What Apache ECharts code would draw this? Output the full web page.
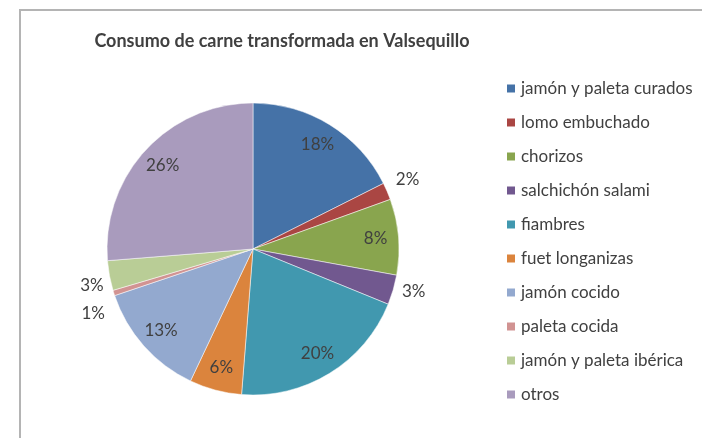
<!DOCTYPE html>
<html lang="es">
<head>
<meta charset="UTF-8">
<title>Consumo de carne transformada en Valsequillo</title>
<script src="https://cdn.jsdelivr.net/npm/echarts@6/dist/echarts.min.js"></script>
<style>
  html, body { margin: 0; padding: 0; background: #fff; }
  #main { width: 702px; height: 438px; }
</style>
</head>
<body>
<div id="main"></div>
<script type="text/javascript">
  // categorias y valores (%)
  var categorias = ['jamón y paleta curados', 'lomo embuchado', 'chorizos', 'salchichón salami',
    'fiambres', 'fuet longanizas', 'jamón cocido', 'paleta cocida', 'jamón y paleta ibérica', 'otros'];
  var valores = [17.6, 1.9, 8.4, 3.3, 20.1, 5.8, 12.8, 0.6, 3.3, 26.3];
  var colores = ['#4572A7', '#AA4643', '#89A54E', '#71588F', '#4198AF',
    '#DB843D', '#93A9CF', '#D19392', '#B9CD96', '#A99BBD'];
  // etiquetas que van fuera del sector
  var fuera = ['lomo embuchado', 'salchichón salami', 'paleta cocida', 'jamón y paleta ibérica'];

  var myChart = echarts.init(document.getElementById('main'));
  var fuente = 'Lato, "Open Sans", sans-serif';

  var datos = categorias.map(function (c, i) {
    return { name: c, value: valores[i], itemStyle: { color: colores[i] } };
  });
  var datosEtiq = categorias.map(function (c, i) {
    var d = { name: c, value: valores[i] };
    if (fuera.indexOf(c) >= 0) {
      d.label = { position: 'outside' };
    }
    return d;
  });

  // pequeños ajustes de las etiquetas exteriores (como las coloca Excel)
  var ajusteY = { 'lomo embuchado': -10, 'jamón y paleta ibérica': 9, 'paleta cocida': 18 };

  myChart.setOption({
    backgroundColor: '#fff',
    animation: false,
    title: {
      text: 'Consumo de carne transformada en Valsequillo',
      left: 277, top: 27, textAlign: 'center',
      textStyle: { fontFamily: fuente, fontSize: 18, fontWeight: 'bold', color: '#404040' }
    },
    legend: {
      orient: 'vertical',
      left: 500, top: 75,
      itemWidth: 10, itemHeight: 10, itemGap: 17,
      icon: 'rect',
      data: categorias,
      selectedMode: false,
      textStyle: { fontFamily: fuente, fontSize: 17, color: '#404040', lineHeight: 15 }
    },
    graphic: [{
      type: 'rect', silent: true,
      shape: { x: 20, y: 10, width: 800, height: 600 },
      style: { fill: 'none', stroke: '#b4b4b4', lineWidth: 2 }
    }],
    series: [{
      name: 'consumo',
      type: 'pie',
      center: [253, 249],
      radius: [0, 146],
      startAngle: 90,
      clockwise: true,
      silent: true,
      label: { show: false },
      labelLine: { show: false },
      itemStyle: { borderColor: '#fff', borderWidth: 0.5 },
      data: datos
    }, {
      // serie transparente solo para colocar los porcentajes
      name: 'etiquetas',
      type: 'pie',
      center: [253, 249],
      radius: [94, 146],
      startAngle: 90,
      clockwise: true,
      silent: true,
      legendHoverLink: false,
      itemStyle: { color: 'rgba(0,0,0,0)' },
      label: {
        show: true, position: 'inside',
        fontFamily: fuente, fontSize: 17, color: '#404040',
        formatter: function (p) { return Math.round(p.value) + '%'; }
      },
      labelLine: { show: false, length: 4, length2: 0 },
      labelLayout: function (p) {
        var n = categorias[p.dataIndex];
        return ajusteY[n] ? { dy: ajusteY[n] } : {};
      },
      data: datosEtiq
    }]
  });
</script>
</body>
</html>
